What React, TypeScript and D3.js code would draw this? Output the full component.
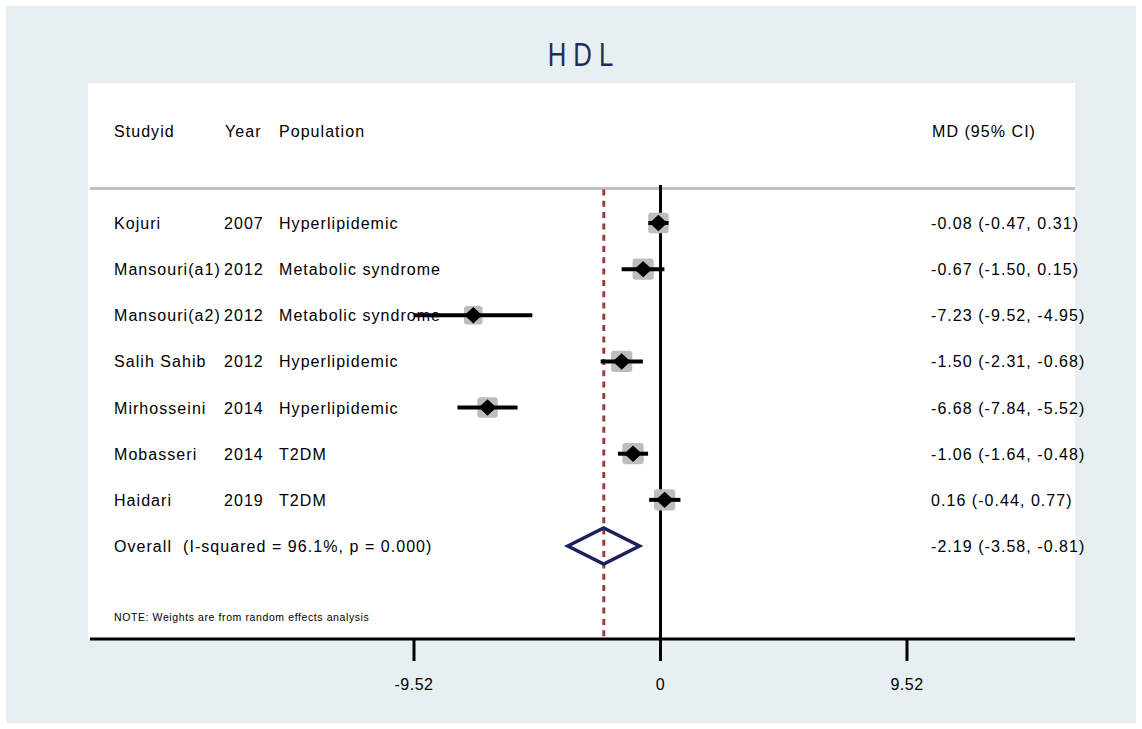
import React from 'react';
import * as d3 from 'd3';

const svgWidth = 1142;
const svgHeight = 729;

// study rows
const studies = ['Kojuri', 'Mansouri(a1)', 'Mansouri(a2)', 'Salih Sahib', 'Mirhosseini', 'Mobasseri', 'Haidari'];
const years = ['2007', '2012', '2012', '2012', '2014', '2014', '2019'];
const populations = [
  'Hyperlipidemic',
  'Metabolic syndrome',
  'Metabolic syndrome',
  'Hyperlipidemic',
  'Hyperlipidemic',
  'T2DM',
  'T2DM',
];
const md = [-0.08, -0.67, -7.23, -1.5, -6.68, -1.06, 0.16];
const lower = [-0.47, -1.5, -9.52, -2.31, -7.84, -1.64, -0.44];
const upper = [0.31, 0.15, -4.95, -0.68, -5.52, -0.48, 0.77];
// random effects weights (%)
const weights = [14.0, 14.9, 11.4, 14.9, 14.0, 15.0, 14.9];

const overallMd = -2.19;
const overallLower = -3.58;
const overallUpper = -0.81;
const overallLabel = 'Overall  (I-squared = 96.1%, p = 0.000)';

const tickValues = [-9.52, 0, 9.52];
const tickLabels = ['-9.52', '0', '9.52'];

const plotLeft = 90;
const plotRight = 1075;
const plotTop = 83;
const axisY = 639;
const sepY = 188.5;

const xScale = d3.scaleLinear().domain([-9.52, 9.52]).range([414, 907]);
const yScale = d3.scalePoint<number>().domain(d3.range(studies.length + 1)).range([223, 546]);
const boxScale = d3.scaleSqrt().domain([0, 15]).range([0, 21.3]);

const fmt = d3
  .formatLocale({ decimal: '.', thousands: ',', grouping: [3], currency: ['', ''], minus: '-' })
  .format('.2f');
const ciText = (m: number, lo: number, hi: number) => `${fmt(m)} (${fmt(lo)}, ${fmt(hi)})`;

const font = '"Liberation Sans", Arial, sans-serif';
const textStyle: React.CSSProperties = {
  fontFamily: font,
  fontSize: 16,
  letterSpacing: 1.05,
  whiteSpace: 'pre',
};

function diamondPath(cx: number, cy: number, hw: number, hh: number) {
  const p = d3.path();
  p.moveTo(cx - hw, cy);
  p.lineTo(cx, cy - hh);
  p.lineTo(cx + hw, cy);
  p.lineTo(cx, cy + hh);
  p.closePath();
  return p.toString();
}

export default function App() {
  const overallY = yScale(studies.length)!;
  return (
    <svg
      width={svgWidth}
      height={svgHeight}
      style={{ position: 'absolute', left: 0, top: 0, background: '#ffffff' }}
    >
      <rect x={6} y={6} width={1130} height={717} fill="#e8eff2" />
      <rect x={plotLeft - 2} y={plotTop} width={plotRight - plotLeft + 2} height={axisY - plotTop} fill="#ffffff" />

      <text
        transform="translate(580.5,66) scale(0.78,1)"
        x={4.5}
        y={0}
        textAnchor="middle"
        fill="#1f2d5a"
        style={{ fontFamily: font, fontSize: 33, letterSpacing: 9 }}
      >
        HDL
      </text>

      {/* header */}
      <g style={textStyle} fill="#000">
        <text x={114} y={137}>Studyid</text>
        <text x={225} y={137}>Year</text>
        <text x={279} y={137}>Population</text>
        <text x={932} y={137}>MD (95% CI)</text>
      </g>

      <line x1={plotLeft} x2={plotRight} y1={sepY} y2={sepY} stroke="#c0c0c0" strokeWidth={3} />

      {/* null line */}
      <line x1={xScale(0)} x2={xScale(0)} y1={185} y2={axisY} stroke="#000" strokeWidth={3} />
      {/* overall effect line */}
      <line
        x1={xScale(overallMd)}
        x2={xScale(overallMd)}
        y1={sepY + 1}
        y2={axisY}
        stroke="#9e3a43"
        strokeWidth={3}
        strokeDasharray="6 5.3"
      />

      {/* study rows */}
      {studies.map((s, i) => {
        const y = yScale(i)!;
        const side = boxScale(weights[i]);
        const cx = xScale(md[i]);
        return (
          <g key={s}>
            <g style={textStyle} fill="#000">
              <text x={114} y={y + 6}>{s}</text>
              <text x={224} y={y + 6}>{years[i]}</text>
              <text x={279} y={y + 6}>{populations[i]}</text>
              <text x={931} y={y + 6}>{ciText(md[i], lower[i], upper[i])}</text>
            </g>
            <rect x={cx - side / 2} y={y - side / 2} width={side} height={side} rx={3} fill="#bdbdbd" />
            <line x1={xScale(lower[i])} x2={xScale(upper[i])} y1={y} y2={y} stroke="#000" strokeWidth={4} />
            <path d={diamondPath(cx, y, 8.8, 8.2)} fill="#000" />
          </g>
        );
      })}

      {/* overall */}
      <g style={textStyle} fill="#000">
        <text x={114} y={overallY + 6} xmlSpace="preserve">{overallLabel}</text>
        <text x={931} y={overallY + 6}>{ciText(overallMd, overallLower, overallUpper)}</text>
      </g>
      <path
        d={diamondPath(
          (xScale(overallLower) + xScale(overallUpper)) / 2,
          overallY,
          (xScale(overallUpper) - xScale(overallLower)) / 2,
          18
        )}
        fill="none"
        stroke="#1e2160"
        strokeWidth={3.5}
        strokeLinejoin="miter"
      />

      <text x={114} y={621} fill="#000" style={{ fontFamily: font, fontSize: 10.5, letterSpacing: 0.6 }}>
        NOTE: Weights are from random effects analysis
      </text>

      {/* axis */}
      <line x1={plotLeft} x2={plotRight} y1={axisY} y2={axisY} stroke="#000" strokeWidth={3} />
      {tickValues.map((t, i) => (
        <g key={t}>
          <line x1={xScale(t)} x2={xScale(t)} y1={axisY} y2={661} stroke="#000" strokeWidth={3} />
          <text x={xScale(t)} y={690} textAnchor="middle" fill="#000" style={{ ...textStyle, letterSpacing: 0.5 }}>
            {tickLabels[i]}
          </text>
        </g>
      ))}
    </svg>
  );
}
